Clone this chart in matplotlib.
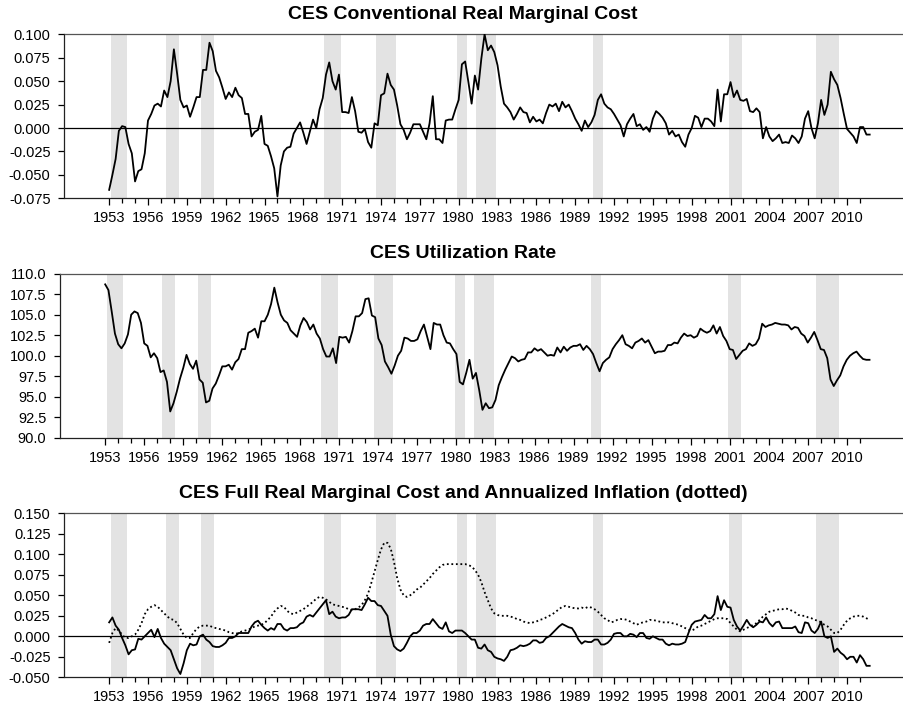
import numpy as np
import matplotlib
matplotlib.use("Agg")
import matplotlib.pyplot as plt
from matplotlib.ticker import FixedLocator, FormatStrFormatter

plt.rcParams['font.family'] = ['Liberation Sans', 'DejaVu Sans']

# Quarterly data, 1953Q1 - 2011Q4 (one row per year)
start_year = 1953

rmc_conv = [
    -0.066, -0.050, -0.033, -0.003,
    0.002, 0.001, -0.017, -0.027,
    -0.057, -0.046, -0.044, -0.027,
    0.008, 0.015, 0.024, 0.026,
    0.023, 0.040, 0.033, 0.050,
    0.084, 0.058, 0.030, 0.022,
    0.024, 0.012, 0.022, 0.033,
    0.033, 0.062, 0.062, 0.091,
    0.082, 0.061, 0.054, 0.043,
    0.031, 0.038, 0.033, 0.043,
    0.035, 0.032, 0.015, 0.015,
    -0.009, -0.004, -0.002, 0.013,
    -0.017, -0.019, -0.030, -0.043,
    -0.073, -0.040, -0.025, -0.021,
    -0.020, -0.006, 0.000, 0.006,
    -0.005, -0.017, -0.004, 0.009,
    0.000, 0.020, 0.032, 0.057,
    0.070, 0.050, 0.041, 0.057,
    0.017, 0.017, 0.016, 0.033,
    0.018, -0.004, -0.005, -0.001,
    -0.015, -0.021, 0.005, 0.003,
    0.035, 0.037, 0.058, 0.046,
    0.041, 0.024, 0.004, -0.002,
    -0.012, -0.005, 0.004, 0.004,
    0.004, -0.004, -0.012, 0.005,
    0.034, -0.012, -0.012, -0.016,
    0.008, 0.009, 0.009, 0.020,
    0.030, 0.068, 0.071, 0.049,
    0.026, 0.056, 0.041, 0.074,
    0.100, 0.083, 0.088, 0.081,
    0.067, 0.044, 0.026, 0.022,
    0.017, 0.009, 0.015, 0.022,
    0.017, 0.016, 0.006, 0.012,
    0.007, 0.009, 0.005, 0.016,
    0.025, 0.023, 0.026, 0.018,
    0.028, 0.022, 0.025, 0.018,
    0.010, 0.004, -0.003, 0.008,
    0.001, 0.006, 0.014, 0.030,
    0.036, 0.026, 0.022, 0.020,
    0.015, 0.009, 0.003, -0.009,
    0.004, 0.010, 0.015, 0.002,
    0.004, -0.002, 0.001, -0.004,
    0.010, 0.018, 0.015, 0.011,
    0.005, -0.007, -0.003, -0.009,
    -0.007, -0.015, -0.020, -0.007,
    0.000, 0.013, 0.011, 0.001,
    0.010, 0.010, 0.007, 0.002,
    0.041, 0.007, 0.036, 0.036,
    0.049, 0.033, 0.040, 0.030,
    0.029, 0.031, 0.018, 0.017,
    0.021, 0.017, -0.011, 0.001,
    -0.009, -0.014, -0.011, -0.007,
    -0.016, -0.015, -0.016, -0.008,
    -0.011, -0.016, -0.009, 0.010,
    0.018, 0.000, -0.011, 0.005,
    0.030, 0.014, 0.025, 0.060,
    0.052, 0.046, 0.032, 0.015,
    -0.001, -0.005, -0.009, -0.016,
    0.001, 0.001, -0.007, -0.007,
]

util_rate = [
    108.7, 108.0, 105.4, 102.7,
    101.4, 100.9, 101.5, 102.6,
    105.0, 105.4, 105.2, 104.0,
    101.5, 101.2, 99.8, 100.3,
    99.7, 98.0, 98.2, 96.8,
    93.2, 94.2, 95.6, 97.2,
    98.5, 100.1, 99.0, 98.4,
    99.4, 97.1, 96.7, 94.3,
    94.5, 96.0, 96.6, 97.6,
    98.7, 98.7, 98.9, 98.3,
    99.2, 99.6, 100.8, 100.8,
    102.8, 103.0, 103.3, 102.2,
    104.2, 104.2, 105.0, 106.3,
    108.3, 106.5, 105.0, 104.3,
    104.0, 103.1, 102.7, 102.3,
    103.7, 104.6, 104.1, 103.2,
    103.8, 102.7, 102.1, 100.8,
    99.9, 99.9, 100.9, 99.1,
    102.3, 102.2, 102.3, 101.6,
    103.0, 104.8, 104.8, 105.2,
    106.9, 107.0, 104.9, 104.7,
    102.1, 101.3, 99.3, 98.6,
    97.8, 98.8, 100.0, 100.6,
    102.2, 102.1, 101.8, 101.8,
    102.0, 103.0, 103.8, 102.3,
    100.8, 104.0, 103.8, 103.8,
    102.5, 101.6, 101.5, 100.8,
    100.2, 96.8, 96.5, 97.9,
    99.5, 97.2, 97.9, 95.8,
    93.4, 94.2, 93.6, 93.7,
    94.6, 96.4, 97.4, 98.3,
    99.1, 99.9, 99.7, 99.3,
    99.5, 99.6, 100.4, 100.4,
    100.9, 100.6, 100.8, 100.4,
    100.0, 100.1, 100.0, 101.0,
    100.4, 101.1, 100.6, 101.0,
    101.2, 101.2, 101.4, 100.7,
    101.2, 100.8, 100.2, 99.1,
    98.1, 99.1, 99.5, 99.8,
    100.8, 101.4, 101.9, 102.5,
    101.4, 101.2, 100.9, 101.6,
    101.8, 102.1, 101.6, 101.9,
    101.1, 100.3, 100.5, 100.5,
    100.6, 101.3, 101.3, 101.6,
    101.5, 102.2, 102.7, 102.4,
    102.5, 102.2, 102.4, 103.3,
    103.0, 102.8, 103.0, 103.7,
    102.7, 103.5, 102.4, 101.8,
    100.8, 100.7, 99.6, 100.1,
    100.6, 100.8, 101.5, 101.2,
    101.4, 102.1, 103.9, 103.5,
    103.7, 103.8, 104.0, 103.9,
    103.8, 103.8, 103.7, 103.2,
    103.5, 103.4, 102.7, 102.4,
    101.6, 102.2, 102.9, 101.9,
    100.8, 100.7, 99.7, 97.1,
    96.3, 97.0, 97.6, 98.7,
    99.5, 100.0, 100.3, 100.5,
    100.0, 99.6, 99.5, 99.5,
]

rmc_full = [
    0.017, 0.023, 0.013, 0.008,
    -0.002, -0.011, -0.022, -0.017,
    -0.016, -0.003, -0.004, 0.000,
    0.004, 0.008, -0.001, 0.009,
    -0.002, -0.009, -0.013, -0.017,
    -0.028, -0.039, -0.046, -0.033,
    -0.017, -0.009, -0.011, -0.010,
    0.000, 0.002, -0.004, -0.007,
    -0.012, -0.013, -0.013, -0.011,
    -0.008, -0.002, -0.002, 0.000,
    0.004, 0.004, 0.004, 0.004,
    0.012, 0.017, 0.019, 0.014,
    0.010, 0.007, 0.010, 0.008,
    0.015, 0.015, 0.009, 0.007,
    0.010, 0.010, 0.011, 0.015,
    0.017, 0.024, 0.026, 0.024,
    0.029, 0.034, 0.039, 0.044,
    0.027, 0.030, 0.024, 0.022,
    0.023, 0.023, 0.026, 0.033,
    0.033, 0.033, 0.032, 0.039,
    0.047, 0.043, 0.043, 0.038,
    0.037, 0.031, 0.025, 0.002,
    -0.012, -0.016, -0.018, -0.015,
    -0.008, 0.000, 0.004, 0.004,
    0.007, 0.013, 0.015, 0.015,
    0.021, 0.016, 0.011, 0.009,
    0.017, 0.006, 0.004, 0.007,
    0.007, 0.007, 0.004, 0.000,
    -0.004, -0.004, -0.014, -0.015,
    -0.010, -0.017, -0.019, -0.025,
    -0.027, -0.028, -0.030, -0.025,
    -0.017, -0.016, -0.014, -0.011,
    -0.012, -0.011, -0.009, -0.005,
    -0.005, -0.008, -0.007, -0.002,
    0.000, 0.004, 0.008, 0.012,
    0.015, 0.013, 0.011, 0.010,
    0.004, -0.004, -0.009, -0.006,
    -0.007, -0.007, -0.004, -0.004,
    -0.010, -0.010, -0.008, -0.004,
    0.003, 0.004, 0.004, 0.000,
    0.000, 0.003, 0.002, -0.001,
    0.004, 0.004, -0.002, -0.003,
    0.000, -0.002, -0.004, -0.004,
    -0.009, -0.011, -0.009, -0.010,
    -0.010, -0.009, -0.007, 0.004,
    0.014, 0.018, 0.019, 0.020,
    0.026, 0.022, 0.022, 0.027,
    0.049, 0.032, 0.044, 0.036,
    0.035, 0.020, 0.012, 0.007,
    0.013, 0.020, 0.014, 0.011,
    0.014, 0.018, 0.017, 0.023,
    0.016, 0.012, 0.017, 0.018,
    0.010, 0.010, 0.010, 0.010,
    0.012, 0.005, 0.004, 0.017,
    0.016, 0.007, 0.004, 0.009,
    0.018, 0.000, -0.002, 0.000,
    -0.019, -0.015, -0.020, -0.023,
    -0.028, -0.025, -0.025, -0.032,
    -0.023, -0.028, -0.036, -0.036,
]

inflation = [
    -0.008, 0.004, 0.010, 0.007,
    0.002, -0.002, -0.002, 0.000,
    0.002, 0.008, 0.016, 0.027,
    0.033, 0.036, 0.038, 0.036,
    0.032, 0.028, 0.024, 0.021,
    0.020, 0.016, 0.009, 0.002,
    -0.002, -0.002, 0.004, 0.009,
    0.012, 0.013, 0.013, 0.013,
    0.011, 0.010, 0.009, 0.008,
    0.007, 0.005, 0.004, 0.003,
    0.004, 0.006, 0.007, 0.008,
    0.010, 0.012, 0.013, 0.014,
    0.016, 0.020, 0.024, 0.030,
    0.034, 0.037, 0.036, 0.031,
    0.028, 0.027, 0.029, 0.031,
    0.033, 0.036, 0.039, 0.042,
    0.046, 0.048, 0.047, 0.045,
    0.042, 0.039, 0.038, 0.037,
    0.036, 0.035, 0.033, 0.032,
    0.033, 0.035, 0.038, 0.044,
    0.052, 0.065, 0.079, 0.093,
    0.106, 0.114, 0.114, 0.107,
    0.091, 0.071, 0.057, 0.050,
    0.048, 0.050, 0.053, 0.057,
    0.059, 0.063, 0.067, 0.071,
    0.076, 0.080, 0.084, 0.087,
    0.088, 0.088, 0.088, 0.088,
    0.088, 0.088, 0.088, 0.087,
    0.085, 0.081, 0.075, 0.066,
    0.054, 0.044, 0.034, 0.028,
    0.026, 0.025, 0.025, 0.025,
    0.024, 0.023, 0.021, 0.020,
    0.018, 0.017, 0.016, 0.017,
    0.018, 0.020, 0.021, 0.023,
    0.025, 0.027, 0.030, 0.033,
    0.036, 0.037, 0.036, 0.035,
    0.034, 0.034, 0.035, 0.034,
    0.036, 0.035, 0.033, 0.030,
    0.026, 0.022, 0.020, 0.017,
    0.018, 0.020, 0.021, 0.021,
    0.020, 0.018, 0.016, 0.014,
    0.016, 0.017, 0.018, 0.020,
    0.020, 0.019, 0.018, 0.017,
    0.017, 0.017, 0.016, 0.015,
    0.014, 0.012, 0.010, 0.008,
    0.007, 0.009, 0.012, 0.013,
    0.015, 0.017, 0.019, 0.021,
    0.022, 0.022, 0.022, 0.021,
    0.016, 0.012, 0.008, 0.006,
    0.008, 0.010, 0.012, 0.014,
    0.016, 0.020, 0.024, 0.027,
    0.030, 0.031, 0.032, 0.033,
    0.033, 0.034, 0.033, 0.031,
    0.029, 0.026, 0.025, 0.025,
    0.023, 0.022, 0.020, 0.019,
    0.017, 0.014, 0.012, 0.008,
    0.004, 0.004, 0.008, 0.014,
    0.019, 0.022, 0.024, 0.025,
    0.025, 0.024, 0.022, 0.020,
]

# NBER recessions (peak quarter, trough quarter)
recessions = [(1953.25, 1954.25), (1957.5, 1958.25), (1960.25, 1961.0),
              (1969.75, 1970.75), (1973.75, 1975.0), (1980.0, 1980.5),
              (1981.5, 1982.75), (1990.5, 1991.0), (2001.0, 2001.75),
              (2007.75, 2009.25)]

year_labels = list(range(1953, 2011, 3))
year_ticks = [y for y in range(1953, 2012) if y not in year_labels]

W, H = 904, 706


def quarters(n):
    return start_year + np.arange(n) / 4.0


def setup_axes(fig, left_px, top_px, bottom_px, ylim, ystep, yfmt, title):
    ax = fig.add_axes([left_px / W, 1 - bottom_px / H,
                       1 - left_px / W, (bottom_px - top_px) / H])
    for a, b in recessions:
        ax.axvspan(a - 0.125, b + 0.125, color='#e3e3e3', lw=0, zorder=0)
    ax.set_xlim(1949.55, 2014.4)
    ax.set_ylim(*ylim)
    ax.xaxis.set_major_locator(FixedLocator(year_labels))
    ax.xaxis.set_minor_locator(FixedLocator(year_ticks))
    ax.set_yticks(np.arange(ylim[0], ylim[1] + ystep / 2, ystep))
    ax.yaxis.set_major_formatter(FormatStrFormatter(yfmt))
    ax.spines['right'].set_visible(False)
    for s in ['left', 'bottom']:
        ax.spines[s].set_linewidth(0.9)
        ax.spines[s].set_color('#222222')
    ax.spines['top'].set_linewidth(0.9)
    ax.spines['top'].set_color('#555555')
    ax.tick_params(axis='x', which='major', direction='out', length=5,
                   width=0.9, pad=4.5, labelsize=10.5)
    ax.tick_params(axis='x', which='minor', direction='out', length=3.5,
                   width=0.9)
    ax.tick_params(axis='y', direction='out', length=4.5, width=0.9,
                   pad=5.5, labelsize=10.5)
    fig.text(463 / W, 1 - (top_px - 20) / H, title, ha='center',
             va='center', fontsize=14, fontweight='bold')
    return ax


fig = plt.figure(figsize=(W / 100, H / 100), dpi=100)

# Panel 1: conventional real marginal cost
ax1 = setup_axes(fig, 64.5, 34.3, 198.3, (-0.075, 0.100), 0.025, '%.3f',
                 'CES Conventional Real Marginal Cost')
ax1.axhline(0, color='black', lw=0.9, zorder=1)
ax1.plot(quarters(len(rmc_conv)), rmc_conv, color='black', lw=1.3, zorder=3)

# Panel 2: utilization rate
ax2 = setup_axes(fig, 60.3, 273.7, 437.7, (90.0, 110.0), 2.5, '%.1f',
                 'CES Utilization Rate')
ax2.plot(quarters(len(util_rate)), util_rate, color='black', lw=1.3, zorder=3)

# Panel 3: full real marginal cost and inflation
ax3 = setup_axes(fig, 64.5, 513.3, 677.3, (-0.050, 0.150), 0.025, '%.3f',
                 'CES Full Real Marginal Cost and Annualized Inflation (dotted)')
ax3.axhline(0, color='black', lw=0.9, zorder=1)
ax3.plot(quarters(len(inflation)), inflation, color='black', lw=1.3,
         linestyle=(0, (1, 1.5)), zorder=3)
ax3.plot(quarters(len(rmc_full)), rmc_full, color='black', lw=1.3, zorder=3)

fig.savefig('out.png', dpi=100)
